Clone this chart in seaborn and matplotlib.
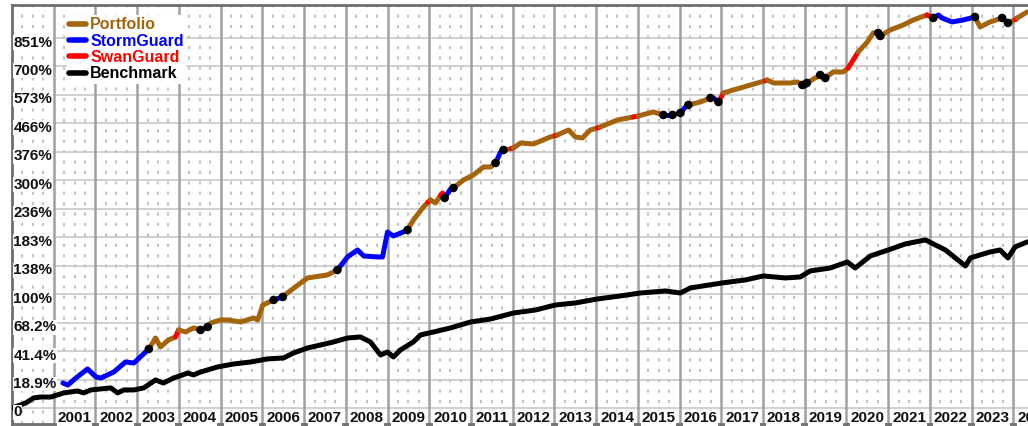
import matplotlib
matplotlib.use("Agg")
import matplotlib.pyplot as plt
from matplotlib import transforms
from matplotlib.lines import Line2D
import pandas as pd
import seaborn as sns

BROWN = "#A5640B"
BLUE = "#0000FF"
RED = "#FF0000"
COLORS = {"P": BROWN, "S": BLUE, "W": RED}

# growth of $1 (1.0 = start)
port_year = [2001.22, 2001.34, 2001.53, 2001.81, 2002.01, 2002.13, 2002.44, 2002.72, 2002.92, 2003.28,
             2003.44, 2003.56, 2003.75, 2003.92, 2003.99, 2004.16, 2004.35, 2004.52, 2004.69, 2004.76,
             2005.00, 2005.17, 2005.48, 2005.79, 2005.89, 2006.01, 2006.27, 2006.49, 2006.60, 2006.92,
             2007.08, 2007.56, 2007.80, 2008.04, 2008.28, 2008.43, 2008.76, 2008.88, 2009.00, 2009.14,
             2009.38, 2009.48, 2009.62, 2009.86, 2009.97, 2010.03, 2010.15, 2010.27, 2010.32, 2010.37,
             2010.51, 2010.58, 2010.82, 2011.06, 2011.30, 2011.47, 2011.59, 2011.71, 2011.78, 2011.97,
             2012.02, 2012.19, 2012.50, 2012.90, 2013.02, 2013.07, 2013.34, 2013.50, 2013.67, 2013.86,
             2014.03, 2014.10, 2014.51, 2014.89, 2015.01, 2015.37, 2015.61, 2015.73, 2015.83, 2016.02,
             2016.14, 2016.21, 2016.50, 2016.74, 2016.81, 2016.93, 2017.05, 2017.29, 2017.70, 2018.05,
             2018.10, 2018.25, 2018.65, 2018.82, 2018.94, 2019.01, 2019.05, 2019.37, 2019.49, 2019.68,
             2019.92, 2020.04, 2020.16, 2020.28, 2020.50, 2020.64, 2020.76, 2020.81, 2021.05, 2021.36,
             2021.60, 2021.93, 2022.08, 2022.20, 2022.29, 2022.53, 2022.80, 2023.08, 2023.20, 2023.44,
             2023.73, 2023.87, 2024.05, 2024.09, 2024.33]
port_growth = [1.164, 1.150, 1.200, 1.268, 1.208, 1.200, 1.245, 1.323, 1.315, 1.432,
               1.531, 1.450, 1.513, 1.541, 1.608, 1.588, 1.628, 1.608, 1.638, 1.678,
               1.709, 1.709, 1.688, 1.730, 1.709, 1.872, 1.930, 1.966, 2.014, 2.141,
               2.207, 2.248, 2.317, 2.508, 2.617, 2.523, 2.508, 2.508, 2.920, 2.850,
               2.920, 2.956, 3.141, 3.400, 3.500, 3.548, 3.484, 3.650, 3.703, 3.592,
               3.794, 3.817, 4.008, 4.132, 4.338, 4.338, 4.445, 4.752, 4.811, 4.850,
               4.870, 5.020, 4.990, 5.207, 5.250, 5.271, 5.434, 5.207, 5.175, 5.434,
               5.500, 5.534, 5.776, 5.882, 5.918, 6.064, 5.954, 5.954, 5.954, 6.027,
               6.251, 6.328, 6.444, 6.604, 6.604, 6.444, 6.807, 6.933, 7.147, 7.330,
               7.367, 7.234, 7.234, 7.278, 7.147, 7.104, 7.234, 7.595, 7.457, 7.735,
               7.735, 7.926, 8.322, 8.738, 9.286, 9.809, 9.809, 9.631, 9.990, 10.299,
               10.617, 10.946, 10.747, 10.946, 10.747, 10.489, 10.617, 10.813, 10.174, 10.489,
               10.747, 10.426, 10.650, 10.747, 11.148]
# P = Portfolio, S = StormGuard, W = SwanGuard (regime of the segment starting at the point)
port_regime = list("SSSSSSSSSP"
                   "PPPWPPPSPP"
                   "PPPPPPSPPP"
                   "PPSSSSSSSS"
                   "SPPPWPPWWS"
                   "SPPPPPSSPW"
                   "PPPPWPPPPP"
                   "WPPWPPSSPS"
                   "SPPSSWPPPW"
                   "PPPPSSPSPP"
                   "PWWPPPSPPP"
                   "PWSSSSSPPP"
                   "SPWPP")

bench_year = [2000.00, 2000.33, 2000.52, 2000.69, 2000.93, 2001.24, 2001.57, 2001.72, 2001.89,
              2002.13, 2002.37, 2002.53, 2002.68, 2002.92, 2003.16, 2003.44, 2003.63, 2003.87,
              2004.09, 2004.21, 2004.35, 2004.52, 2004.93, 2005.31, 2005.72, 2006.12, 2006.51,
              2006.75, 2007.08, 2007.40, 2007.71, 2008.04, 2008.35, 2008.59, 2008.83, 2009.00,
              2009.14, 2009.31, 2009.62, 2009.79, 2010.10, 2010.51, 2010.99, 2011.47, 2012.02,
              2012.55, 2013.02, 2013.50, 2014.03, 2014.58, 2015.06, 2015.66, 2016.02, 2016.26,
              2017.02, 2017.57, 2018.01, 2018.53, 2018.89, 2019.13, 2019.61, 2020.02, 2020.21,
              2020.57, 2021.00, 2021.41, 2021.89, 2022.37, 2022.61, 2022.85, 2022.97, 2023.20,
              2023.44, 2023.68, 2023.87, 2024.04, 2024.33]
bench_growth = [1.000, 1.031, 1.063, 1.069, 1.069, 1.096, 1.109, 1.096, 1.116,
                1.123, 1.130, 1.096, 1.116, 1.116, 1.130, 1.186, 1.164, 1.200,
                1.223, 1.237, 1.223, 1.245, 1.284, 1.307, 1.323, 1.348, 1.356,
                1.398, 1.441, 1.468, 1.495, 1.531, 1.541, 1.495, 1.381, 1.406,
                1.364, 1.424, 1.495, 1.560, 1.588, 1.628, 1.688, 1.719, 1.783,
                1.816, 1.872, 1.895, 1.942, 1.978, 2.014, 2.039, 2.014, 2.077,
                2.141, 2.180, 2.234, 2.207, 2.220, 2.303, 2.345, 2.433, 2.345,
                2.523, 2.617, 2.715, 2.782, 2.617, 2.493, 2.374, 2.493, 2.539,
                2.585, 2.617, 2.493, 2.666, 2.748]

tick_pct = [0, 18.9, 41.4, 68.2, 100, 138, 183, 236, 300, 376, 466, 573, 700, 851]
tick_labels = ["0", "18.9%", "41.4%", "68.2%", "100%", "138%", "183%", "236%",
               "300%", "376%", "466%", "573%", "700%", "851%"]
years = list(range(2001, 2025))
legend_labels = ["Portfolio", "StormGuard", "SwanGuard", "Benchmark"]
legend_colors = [BROWN, BLUE, RED, "black"]

sns.set_style("white")
plt.rcParams["font.family"] = ["Liberation Sans", "DejaVu Sans"]

fig = plt.figure(figsize=(10.28, 4.26), dpi=100)
ax = fig.add_axes([12 / 1028, 2 / 426, 1 - 12 / 1028, 419 / 426])

port = pd.DataFrame({"year": port_year, "growth": port_growth, "regime": port_regime})
bench = pd.DataFrame({"year": bench_year, "growth": bench_growth})

LW = 3.6
n = len(port)
i = 0
while i < n - 1:
    j = i
    while j + 1 < n - 1 and port_regime[j + 1] == port_regime[i]:
        j += 1
    seg = port.iloc[i:j + 2]
    sns.lineplot(data=seg, x="year", y="growth", color=COLORS[port_regime[i]], lw=LW,
                 sort=False, estimator=None, ax=ax, legend=False, zorder=3,
                 solid_capstyle="round", solid_joinstyle="round")
    i = j + 1

# black dots where StormGuard switches on / off
dot_idx = [k for k in range(1, n)
           if (port_regime[k] == "S") != (port_regime[k - 1] == "S")]
sns.scatterplot(data=port.iloc[dot_idx], x="year", y="growth", color="black", s=38,
                edgecolor="none", ax=ax, zorder=5, legend=False)

sns.lineplot(data=bench, x="year", y="growth", color="black", lw=LW, sort=False,
             estimator=None, ax=ax, legend=False, zorder=4,
             solid_capstyle="round", solid_joinstyle="round")

ax.set_yscale("log", base=2)
ax.set_xlim(2000.0, 2024.35)
ax.set_ylim(0.907, 11.63)
ax.set_yticks([1 + p / 100 for p in tick_pct])
ax.set_yticks([], minor=True)
ax.set_xticks([])
ax.set_yticklabels([])
ax.tick_params(left=False, bottom=False, which="both")
ax.set_xlabel("")
ax.set_ylabel("")
ax.grid(axis="y", color="#cdcdcd", lw=1.3, zorder=0)

for y in years:
    ax.axvline(y, color="#a0a0a0", lw=1.8, zorder=1)
    for q in (0.25, 0.5, 0.75):
        ax.axvline(y - 1 + q, color="#c4c4c4", lw=1.5, dashes=(1.5, 3.5), zorder=1)

for side in ("top", "left", "bottom"):
    ax.spines[side].set_color("#6e6e6e")
    ax.spines[side].set_linewidth(2)
ax.spines["right"].set_visible(False)

# y labels inside the frame
ytr = transforms.offset_copy(ax.get_yaxis_transform(), fig=fig, x=1.5, y=-4.5, units="dots")
for p, lab in zip(tick_pct, tick_labels):
    ax.text(0, 1 + p / 100, lab, transform=ytr, ha="left", va="center", fontsize=11,
            fontweight="bold", color="#111111", zorder=10,
            bbox=dict(facecolor="white", edgecolor="none", pad=0.3))

# year labels inside the bottom
xtr = transforms.offset_copy(ax.get_xaxis_transform(), fig=fig, x=0, y=5.5, units="dots")
for y in years:
    ax.text(y + 0.5, 0, str(y), transform=xtr, ha="center", va="center", fontsize=11,
            fontweight="bold", color="#111111", zorder=10, clip_on=False,
            bbox=dict(facecolor="white", edgecolor="none", pad=0.3))

handles = [Line2D([], [], color=c, lw=4, solid_capstyle="round") for c in legend_colors]
leg = ax.legend(handles, legend_labels, loc="upper left",
                bbox_to_anchor=(67 / 1028, 1 - 15 / 426), bbox_transform=fig.transFigure,
                prop={"weight": "bold", "size": 11.5}, labelcolor=legend_colors,
                handlelength=1.05, handletextpad=0.25, labelspacing=0.08,
                borderpad=0.15, borderaxespad=0, frameon=True, fancybox=False)
leg.get_frame().set_facecolor("white")
leg.get_frame().set_edgecolor("none")
leg.get_frame().set_alpha(1)
leg.set_zorder(10)

fig.savefig("out.png", dpi=100, facecolor="white")
